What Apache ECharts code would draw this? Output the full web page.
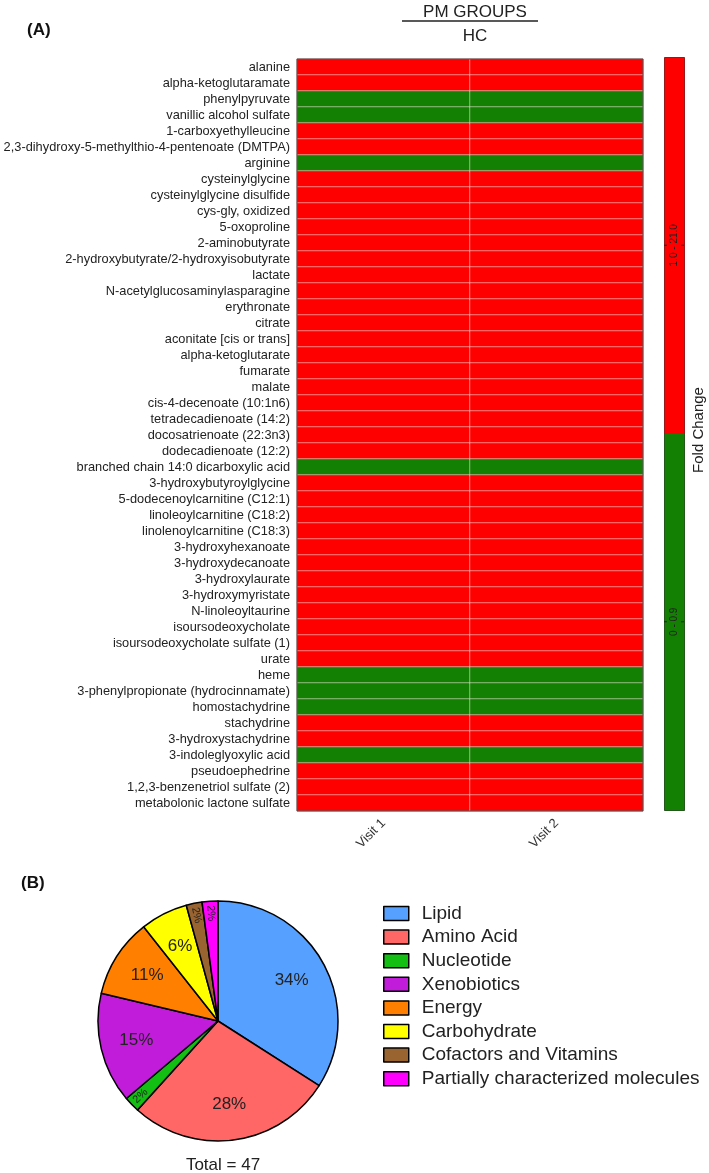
<!DOCTYPE html>
<html>
<head>
<meta charset="utf-8">
<script src="https://cdn.jsdelivr.net/npm/echarts@6/dist/echarts.min.js"></script>
<style>html,body{margin:0;padding:0;background:#fff}#c{width:709px;height:1173px}</style>
</head>
<body>
<div id="c"></div>
<script>
const metabolites = [
  'alanine','alpha-ketoglutaramate','phenylpyruvate','vanillic alcohol sulfate','1-carboxyethylleucine',
  '2,3-dihydroxy-5-methylthio-4-pentenoate (DMTPA)','arginine','cysteinylglycine','cysteinylglycine disulfide',
  'cys-gly, oxidized','5-oxoproline','2-aminobutyrate','2-hydroxybutyrate/2-hydroxyisobutyrate','lactate',
  'N-acetylglucosaminylasparagine','erythronate','citrate','aconitate [cis or trans]','alpha-ketoglutarate',
  'fumarate','malate','cis-4-decenoate (10:1n6)','tetradecadienoate (14:2)','docosatrienoate (22:3n3)',
  'dodecadienoate (12:2)','branched chain 14:0 dicarboxylic acid','3-hydroxybutyroylglycine',
  '5-dodecenoylcarnitine (C12:1)','linoleoylcarnitine (C18:2)','linolenoylcarnitine (C18:3)',
  '3-hydroxyhexanoate','3-hydroxydecanoate','3-hydroxylaurate','3-hydroxymyristate','N-linoleoyltaurine',
  'isoursodeoxycholate','isoursodeoxycholate sulfate (1)','urate','heme','3-phenylpropionate (hydrocinnamate)',
  'homostachydrine','stachydrine','3-hydroxystachydrine','3-indoleglyoxylic acid','pseudoephedrine',
  '1,2,3-benzenetriol sulfate (2)','metabolonic lactone sulfate'
];
const visits = ['Visit 1','Visit 2'];
// fold change (PM groups / HC); only the colour class is readable from the figure
const visit1FC = [2,2,0.6,0.6,2,2,0.6,2,2,2,2,2,2,2,2,2,2,2,2,2,2,2,2,2,2,0.6,2,2,2,2,2,2,2,2,2,2,2,2,0.6,0.6,0.6,2,2,0.6,2,2,2];
const visit2FC = [2,2,0.6,0.6,2,2,0.6,2,2,2,2,2,2,2,2,2,2,2,2,2,2,2,2,2,2,0.6,2,2,2,2,2,2,2,2,2,2,2,2,0.6,0.6,0.6,2,2,0.6,2,2,2];
const foldPieces = [
  {min: 0, max: 0.9, label: '0 - 0.9', color: '#138003'},
  {min: 1.0, max: 21.0, label: '1.0 - 21.0', color: '#fe0000'}
];

const classNames = ['Lipid','Amino Acid','Nucleotide','Xenobiotics','Energy','Carbohydrate','Cofactors and Vitamins','Partially characterized molecules'];
const classCounts = [16, 13, 1, 7, 5, 3, 1, 1];
const classColors = ['#56a0ff','#ff6666','#12bf12','#c21cdb','#ff8000','#ffff00','#9a6430','#ff00ff'];

const heatData = [];
visits.forEach((v, xi) => {
  const arr = xi === 0 ? visit1FC : visit2FC;
  metabolites.forEach((m, yi) => heatData.push([xi, yi, arr[yi]]));
});
const total = classCounts.reduce((a, b) => a + b, 0);
const pieData = classNames.map((n, i) => ({name: n, value: classCounts[i], itemStyle: {color: classColors[i]}}));
const isSmall = v => v / total < 0.03;

const FONT = 'Liberation Sans, Arial, sans-serif';
const chart = echarts.init(document.getElementById('c'), null, {renderer: 'canvas'});

// visualMap legend geometry
const vmLeft = 664, vmTop = 57, vmW = 20, vmH = 753;

chart.setOption({
  animation: false,
  textStyle: {fontFamily: FONT},
  title: [
    {text: 'PM GROUPS', subtext: 'HC', left: 470, textAlign: 'center', top: -1, itemGap: 7,
      textStyle: {fontSize: 17, fontWeight: 'normal', color: '#222', fontFamily: FONT},
      subtextStyle: {fontSize: 17, color: '#222', fontFamily: FONT}},
    {text: '(A)', left: 22, top: 17, textStyle: {fontSize: 17, fontWeight: 'bold', color: '#111', fontFamily: FONT}},
    {text: '(B)', left: 16, top: 870, textStyle: {fontSize: 17, fontWeight: 'bold', color: '#111', fontFamily: FONT}},
    {text: 'Total = ' + total, left: 218, textAlign: 'center', top: 1152,
      textStyle: {fontSize: 17, fontWeight: 'normal', color: '#222', fontFamily: FONT}}
  ],
  grid: {left: 297, top: 59, width: 346, height: 752, show: true, z: 10,
    outerBoundsMode: 'none', containLabel: false,
    borderColor: '#444', borderWidth: 1, backgroundColor: 'transparent'},
  xAxis: {type: 'category', data: visits, position: 'bottom',
    axisLine: {show: false}, axisTick: {show: false}, splitLine: {show: false},
    axisLabel: {rotate: 45, fontSize: 13, color: '#333', margin: 10, fontFamily: FONT}},
  yAxis: {type: 'category', data: metabolites, inverse: true,
    axisLine: {show: false}, axisTick: {show: false}, splitLine: {show: false},
    axisLabel: {interval: 0, fontSize: 12.8, color: '#222', margin: 7, fontFamily: FONT}},
  visualMap: {
    type: 'piecewise', seriesIndex: 0, orient: 'vertical',
    left: vmLeft, top: vmTop, itemWidth: vmW, itemHeight: vmH / 2, itemGap: 0,
    itemSymbol: 'rect', showLabel: false, padding: 0, z: 4,
    borderColor: '#333', borderWidth: 1, pieces: foldPieces
  },
  legend: {
    data: classNames, orient: 'vertical', left: 383, top: 904, padding: 0,
    itemWidth: 25, itemHeight: 14, itemGap: 4.6, icon: 'rect',
    itemStyle: {borderColor: '#000', borderWidth: 1.5},
    textStyle: {fontSize: 19, lineHeight: 19, color: '#222', padding: [0, 0, 0, 8], fontFamily: FONT},
    selectedMode: false
  },
  graphic: {elements: [
    {type: 'line', z: 100, shape: {x1: 402, y1: 21, x2: 538, y2: 21}, style: {stroke: '#222', lineWidth: 1.5}},
    {type: 'text', z: 100, x: 699, y: 430, rotation: Math.PI / 2,
      style: {text: 'Fold Change', fontSize: 15, fill: '#222', align: 'center', verticalAlign: 'middle', fontFamily: FONT}},
    {type: 'text', z: 100, x: vmLeft + vmW / 2, y: vmTop + vmH / 4, rotation: Math.PI / 2,
      style: {text: foldPieces[1].label, fontSize: 10, fill: '#222', align: 'center', verticalAlign: 'middle', fontFamily: FONT}},
    {type: 'text', z: 100, x: vmLeft + vmW / 2, y: vmTop + 3 * vmH / 4, rotation: Math.PI / 2,
      style: {text: foldPieces[0].label, fontSize: 10, fill: '#222', align: 'center', verticalAlign: 'middle', fontFamily: FONT}},
    {type: 'line', z: 100, shape: {x1: vmLeft, y1: vmTop + vmH / 4, x2: vmLeft + 3, y2: vmTop + vmH / 4}, style: {stroke: '#222', lineWidth: 1}},
    {type: 'line', z: 100, shape: {x1: vmLeft + vmW - 3, y1: vmTop + vmH / 4, x2: vmLeft + vmW, y2: vmTop + vmH / 4}, style: {stroke: '#222', lineWidth: 1}},
    {type: 'line', z: 100, shape: {x1: vmLeft, y1: vmTop + 3 * vmH / 4, x2: vmLeft + 3, y2: vmTop + 3 * vmH / 4}, style: {stroke: '#222', lineWidth: 1}},
    {type: 'line', z: 100, shape: {x1: vmLeft + vmW - 3, y1: vmTop + 3 * vmH / 4, x2: vmLeft + vmW, y2: vmTop + 3 * vmH / 4}, style: {stroke: '#222', lineWidth: 1}}
  ]},
  series: [
    {type: 'heatmap', data: heatData,
      itemStyle: {borderColor: 'rgba(255,235,235,0.85)', borderWidth: 0.6},
      emphasis: {disabled: true}},
    {type: 'pie', center: [218, 1021], radius: [0, 120], percentPrecision: 0,
      label: {show: false}, labelLine: {show: false},
      itemStyle: {borderColor: '#000', borderWidth: 1.5},
      emphasis: {disabled: true}, data: pieData},
    {type: 'pie', center: [218, 1021], radius: [38, 124], percentPrecision: 0, silent: true,
      itemStyle: {color: 'rgba(0,0,0,0)', borderWidth: 0},
      label: {position: 'inside', formatter: '{d}%', fontSize: 17, color: '#222', fontFamily: FONT},
      labelLine: {show: false}, emphasis: {disabled: true},
      data: classNames.map((n, i) => ({name: n, value: classCounts[i], label: {show: !isSmall(classCounts[i])}}))},
    {type: 'pie', center: [218, 1021], radius: [80, 130], percentPrecision: 0, silent: true,
      itemStyle: {color: 'rgba(0,0,0,0)', borderWidth: 0},
      label: {position: 'inside', formatter: '{d}%', fontSize: 11, color: '#222', rotate: 'radial', fontFamily: FONT},
      labelLine: {show: false}, emphasis: {disabled: true},
      data: classNames.map((n, i) => ({name: n, value: classCounts[i], label: {show: isSmall(classCounts[i])}}))}
  ]
});
</script>
</body>
</html>
